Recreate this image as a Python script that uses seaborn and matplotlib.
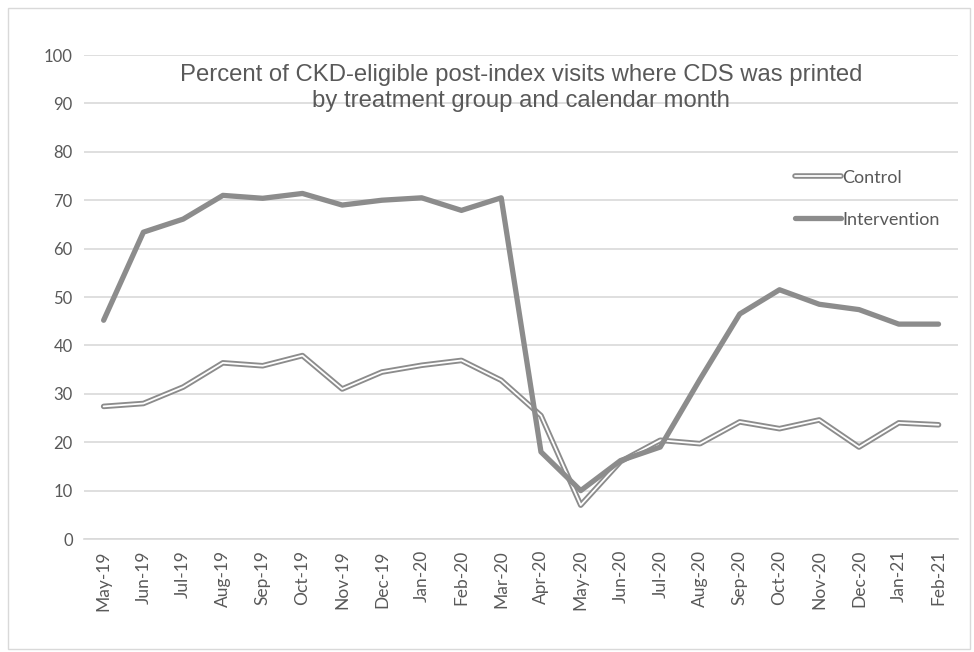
import pandas as pd
import matplotlib.pyplot as plt
import matplotlib.patheffects as pe
import seaborn as sns

# Monthly values
months = ["May-19", "Jun-19", "Jul-19", "Aug-19", "Sep-19", "Oct-19", "Nov-19",
          "Dec-19", "Jan-20", "Feb-20", "Mar-20", "Apr-20", "May-20", "Jun-20",
          "Jul-20", "Aug-20", "Sep-20", "Oct-20", "Nov-20", "Dec-20", "Jan-21", "Feb-21"]
control = [27.4, 28.0, 31.4, 36.4, 35.8, 37.9, 31.0, 34.5, 35.9, 36.9, 32.8,
           25.5, 7.0, 16.0, 20.4, 19.7, 24.2, 22.8, 24.6, 19.0, 24.0, 23.6]
intervention = [45.2, 63.4, 66.1, 71.0, 70.4, 71.4, 69.0, 70.0, 70.5, 67.9, 70.5,
                18.0, 10.0, 16.2, 19.0, 33.0, 46.5, 51.5, 48.5, 47.4, 44.4, 44.4]

df = pd.DataFrame({"month": months, "Control": control, "Intervention": intervention})
df["pos"] = range(len(df))

sns.set_style("white")
plt.rcParams['font.family'] = ['Lato', 'DejaVu Sans']

text_col = "#595959"
line_col = "#8c8c8c"

fig = plt.figure(figsize=(9.74, 6.52), dpi=100)
ax = fig.add_axes([0.086, 0.1733, 0.898, 0.7423])

# -------- Control: hollow double line --------
sns.lineplot(data=df, x="pos", y="Control", ax=ax, color="white", linewidth=1.3,
             label="Control", sort=False,
             path_effects=[pe.Stroke(linewidth=4.0, foreground=line_col), pe.Normal()])

# -------- Intervention: thick solid line --------
sns.lineplot(data=df, x="pos", y="Intervention", ax=ax, color=line_col,
             linewidth=3.8, label="Intervention", sort=False)

ax.set_xlim(-0.5, len(months) - 0.5)
ax.set_ylim(0, 100)
ax.set_yticks(range(0, 101, 10))
ax.set_xticks(df["pos"])
ax.set_xticklabels(months, rotation=90)
ax.tick_params(axis="both", colors=text_col, length=0, pad=8)
ax.tick_params(axis="x", labelsize=12.5)
ax.tick_params(axis="y", labelsize=12)
ax.set_xlabel("")
ax.set_ylabel("")
ax.grid(axis="y", color="#d9d9d9", linewidth=1.2)
ax.set_axisbelow(True)
for s in ["top", "right", "left"]:
    ax.spines[s].set_visible(False)
ax.spines["bottom"].set_color("#d9d9d9")
ax.spines["bottom"].set_linewidth(1.2)

ax.text(0.5, 0.932, "Percent of CKD-eligible post-index visits where CDS was printed\nby treatment group and calendar month",
        transform=ax.transAxes, ha="center", va="center", fontsize=17.2, color=text_col,
        family=["Liberation Sans", "DejaVu Sans"], linespacing=1.25)

leg = ax.legend(loc="upper left", bbox_to_anchor=(0.795, 0.797), frameon=False,
                fontsize=13, handlelength=2.5, handletextpad=0.1, labelspacing=1.45,
                labelcolor=text_col)

# light border round the whole chart
fig.patches.append(plt.Rectangle((0.008, 0.005), 0.988, 0.982, transform=fig.transFigure,
                                 fill=False, edgecolor="#d9d9d9", linewidth=1))

plt.savefig("out.png", dpi=100)
plt.close()
